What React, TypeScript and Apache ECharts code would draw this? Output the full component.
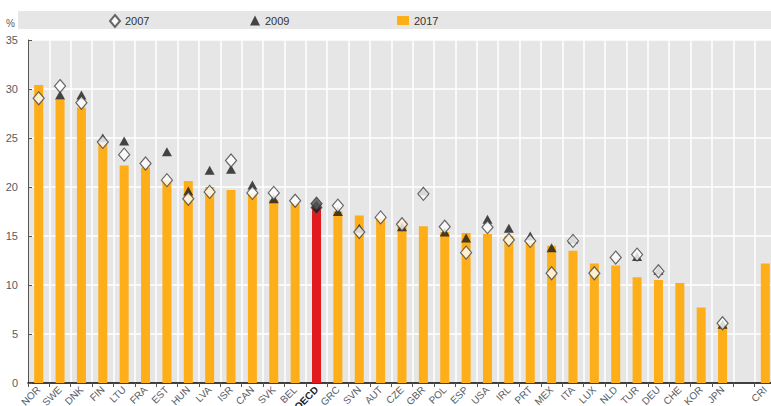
import React, { useEffect, useRef } from "react";
import * as echarts from "echarts";

const categories = ["NOR","SWE","DNK","FIN","LTU","FRA","EST","HUN","LVA","ISR","CAN","SVK","BEL","OECD","GRC","SVN","AUT","CZE","GBR","POL","ESP","USA","IRL","PRT","MEX","ITA","LUX","NLD","TUR","DEU","CHE","KOR","JPN","","CRI"];

const values2017 = [30.4,28.9,28.1,24.5,22.2,22.0,20.7,20.6,20.0,19.7,19.3,18.7,18.3,17.8,17.5,17.1,16.8,16.5,16.0,15.4,15.3,15.2,15.0,14.4,14.0,13.5,12.2,12.0,10.8,10.5,10.2,7.7,5.8,null,12.2];

const values2007 = [29.05,30.3,28.6,24.6,23.3,22.4,20.7,18.8,19.5,22.7,19.4,19.4,18.6,18.3,18.1,15.4,16.9,16.2,19.3,15.95,13.3,15.9,14.6,14.5,11.2,14.5,11.2,12.8,13.1,11.4,null,null,6.1,null,null];

const values2009 = [null,29.4,29.4,25.0,24.7,null,23.6,19.6,21.7,21.8,20.2,18.8,null,17.9,17.5,15.8,null,15.95,19.6,15.4,14.8,16.7,15.8,15.0,13.8,14.7,null,null,12.9,11.5,null,null,6.0,null,null];

const yTicks = [0, 5, 10, 15, 20, 25, 30, 35];

const FONT = "'Liberation Sans Narrow', 'Arial Narrow', 'Liberation Sans', Arial, sans-serif";
const ORANGE = "#fdae19";
const RED = "#e2191f";

export default function App() {
  const ref = useRef<HTMLDivElement>(null);

  useEffect(() => {
    if (!ref.current) return;
    const chart = echarts.init(ref.current, null, { renderer: "svg" });

    const barData = values2017.map((v, i) =>
      categories[i] === "OECD"
        ? { value: v, itemStyle: { color: RED } }
        : v
    );
    const d2007 = values2007.map((v, i) =>
      categories[i] === "OECD"
        ? { value: v, itemStyle: { color: "#555555", borderColor: "#333333" } }
        : v
    );
    const d2009 = values2009.map((v, i) =>
      categories[i] === "OECD"
        ? { value: v, symbol: "diamond", symbolSize: [11, 13], itemStyle: { color: "#111111", borderColor: "#555555", borderWidth: 1 } }
        : v
    );

    const legendText = { fontSize: 11, color: "#333333", fontFamily: FONT };

    chart.setOption({
      animation: false,
      backgroundColor: "#ffffff",
      textStyle: { fontFamily: FONT },
      graphic: [
        {
          type: "rect",
          shape: { x: 18, y: 11, width: 760, height: 18 },
          style: { fill: "#e6e6e6" },
          z: -10,
        },
        {
          type: "text",
          x: 6,
          y: 18,
          style: { text: "%", fontSize: 10, fill: "#555c66", fontFamily: FONT },
        },
      ],
      legend: [
        {
          data: ["2007"],
          left: 109,
          top: 14,
          padding: 0,
          itemWidth: 10,
          itemHeight: 12,
          textStyle: legendText,
        },
        {
          data: ["2009"],
          left: 250,
          top: 15,
          padding: 0,
          itemWidth: 10,
          itemHeight: 10,
          textStyle: legendText,
        },
        {
          data: [{ name: "2017", icon: "rect" }],
          left: 397,
          top: 15,
          padding: 0,
          itemWidth: 12,
          itemHeight: 9,
          textStyle: legendText,
        },
      ],
      grid: {
        left: 28,
        top: 40,
        width: 748,
        height: 343,
        show: true,
        backgroundColor: "#e6e6e6",
        borderWidth: 0,
        outerBoundsMode: "none",
        containLabel: false,
      },
      xAxis: {
        type: "category",
        data: categories,
        boundaryGap: true,
        axisLine: { show: true, lineStyle: { color: "#000000", width: 1.5 } },
        axisTick: { show: true, length: 4, inside: false, lineStyle: { color: "#555555" } },
        splitLine: { show: true, lineStyle: { color: "#ffffff", width: 1.5 } },
        axisLabel: {
          interval: 0,
          rotate: 45,
          fontSize: 10,
          color: "#555c66",
          margin: 5,
          fontFamily: FONT,
          formatter: (v: string) => (v === "OECD" ? "{b|OECD}" : v),
          rich: { b: { fontWeight: "bold", fontSize: 10, color: "#222222", fontFamily: FONT } },
        },
      },
      yAxis: {
        type: "value",
        min: yTicks[0],
        max: yTicks[yTicks.length - 1],
        interval: 5,
        axisLine: { show: true, lineStyle: { color: "#555555", width: 1 } },
        axisTick: { show: true, inside: true, length: 4, lineStyle: { color: "#555555" } },
        splitLine: { show: true, lineStyle: { color: "#ffffff", width: 1.5 } },
        axisLabel: { fontSize: 11, color: "#555c66", margin: 10, fontFamily: FONT },
      },
      series: [
        {
          name: "2017",
          type: "bar",
          data: barData,
          barWidth: 9,
          itemStyle: { color: ORANGE },
          z: 2,
        },
        {
          name: "2009",
          type: "scatter",
          data: d2009,
          symbol: "triangle",
          symbolSize: [10, 9],
          itemStyle: { color: "#1a1a1a" },
          z: 3,
        },
        {
          name: "2007",
          type: "scatter",
          data: d2007,
          symbol: "diamond",
          symbolSize: [11, 13],
          itemStyle: { color: "#ffffff", borderColor: "#444444", borderWidth: 1.2 },
          z: 4,
        },
      ],
    });

    return () => chart.dispose();
  }, []);

  return (
    <div
      ref={ref}
      style={{ position: "fixed", left: 0, top: 0, width: 771, height: 406 }}
    />
  );
}
